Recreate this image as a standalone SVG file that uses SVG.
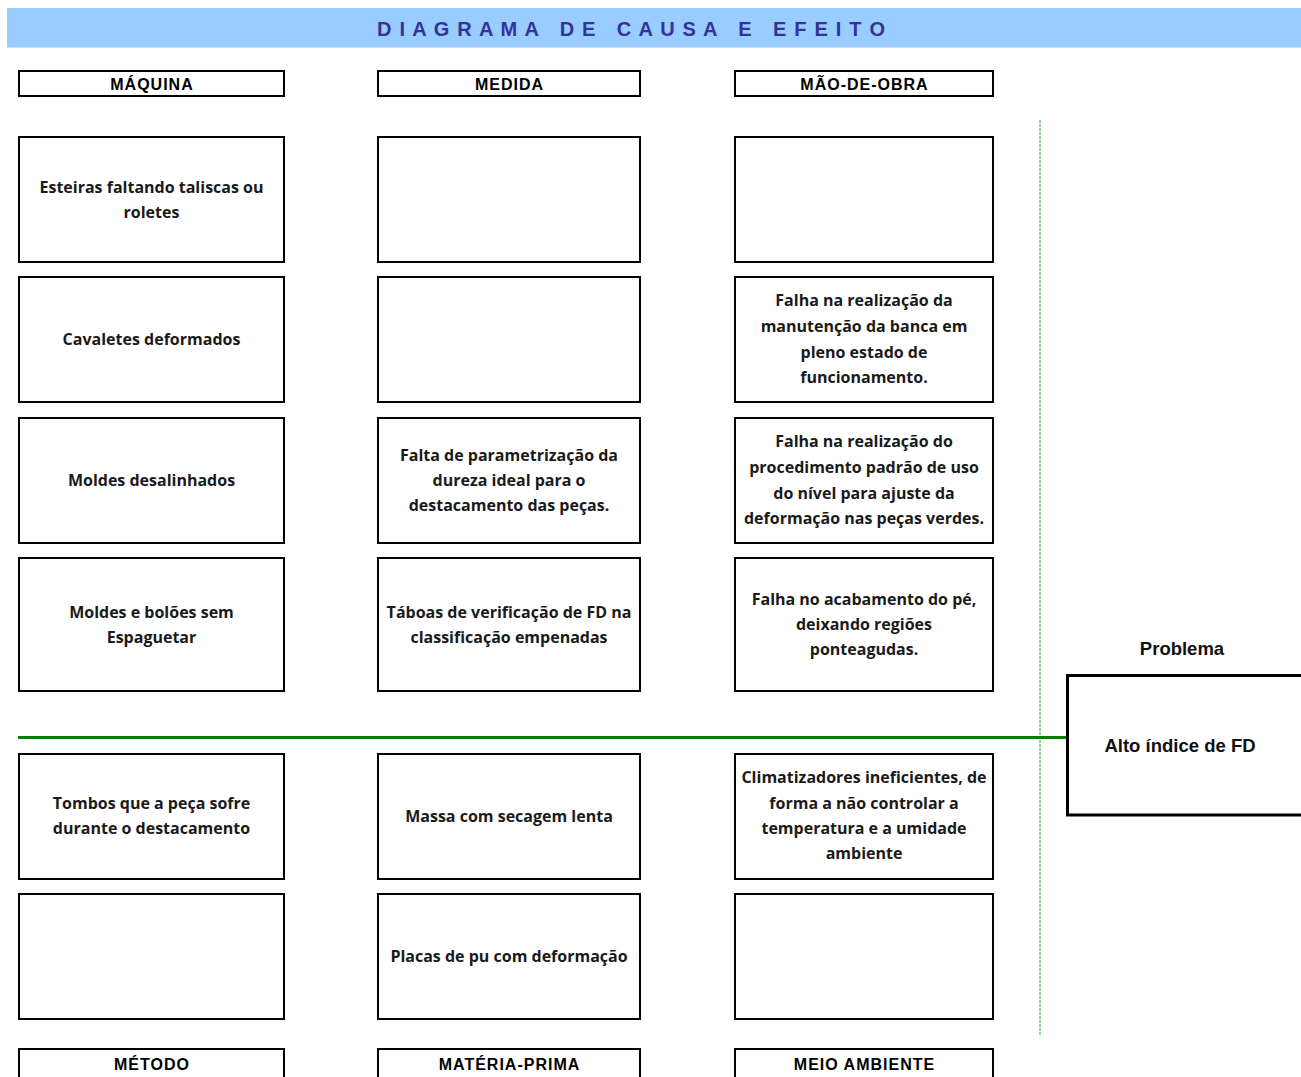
<svg xmlns="http://www.w3.org/2000/svg" width="1301" height="1077" viewBox="0 0 1301 1077">
  <style>
    .box { fill: #ffffff; stroke: #000000; stroke-width: 2; }
    .hdr { fill: #ffffff; stroke: #000000; stroke-width: 2; }
    .hdrtxt { font-family: "Liberation Sans", Arial, sans-serif; font-weight: bold; font-size: 16px; letter-spacing: 1px; fill: #000000; text-anchor: middle; }
    .cause { font-family: "Open Sans", "Noto Sans", sans-serif; font-weight: bold; font-size: 16px; fill: #1a1a1a; text-anchor: middle; }
    .prob { font-family: "Liberation Sans", Arial, sans-serif; font-weight: bold; font-size: 18.5px; fill: #111111; text-anchor: middle; }
    .title { font-family: "Liberation Sans", Arial, sans-serif; font-weight: bold; font-size: 20px; fill: #333399; text-anchor: middle; white-space: pre; }
  </style>

  <rect width="1301" height="1077" fill="#ffffff"/>

  <!-- Title band -->
  <g id="title">
    <rect x="7" y="8" width="1294" height="39.5" fill="#99ccff"/>
    <text class="title" x="631" y="36" xml:space="preserve" textLength="508" lengthAdjust="spacing">D I A G R A M A   D E   C A U S A   E   E F E I T O</text>
  </g>

  <!-- Connectors: main spine and dashed divider -->
  <g id="connectors">
    <line x1="1040" y1="120" x2="1040" y2="1036" stroke="#2e9e2e" stroke-width="1" stroke-dasharray="3,1"/>
    <line x1="18" y1="737.5" x2="1067" y2="737.5" stroke="#008000" stroke-width="3"/>
  </g>

  <!-- Category headers -->
  <g id="hdr-maquina">
    <rect class="hdr" x="19" y="71" width="265" height="25"/>
    <text class="hdrtxt" x="152" y="89.5">MÁQUINA</text>
  </g>
  <g id="hdr-medida">
    <rect class="hdr" x="378" y="71" width="262" height="25"/>
    <text class="hdrtxt" x="509.5" y="89.5">MEDIDA</text>
  </g>
  <g id="hdr-maodeobra">
    <rect class="hdr" x="735" y="71" width="258" height="25"/>
    <text class="hdrtxt" x="864.5" y="89.5">MÃO-DE-OBRA</text>
  </g>
  <g id="hdr-metodo">
    <rect class="hdr" x="19" y="1049" width="265" height="40"/>
    <text class="hdrtxt" x="152" y="1069.5">MÉTODO</text>
  </g>
  <g id="hdr-materiaprima">
    <rect class="hdr" x="378" y="1049" width="262" height="40"/>
    <text class="hdrtxt" x="509.5" y="1069.5">MATÉRIA-PRIMA</text>
  </g>
  <g id="hdr-meioambiente">
    <rect class="hdr" x="735" y="1049" width="258" height="40"/>
    <text class="hdrtxt" x="864.5" y="1069.5">MEIO AMBIENTE</text>
  </g>

  <!-- Column 1: Máquina / Método -->
  <g id="c1r1">
    <rect class="box" x="19" y="137" width="265" height="125"/>
    <text class="cause" x="151.5" y="193">Esteiras faltando taliscas ou</text>
    <text class="cause" x="151.5" y="218">roletes</text>
  </g>
  <g id="c1r2">
    <rect class="box" x="19" y="277" width="265" height="125"/>
    <text class="cause" x="151.5" y="345">Cavaletes deformados</text>
  </g>
  <g id="c1r3">
    <rect class="box" x="19" y="418" width="265" height="125"/>
    <text class="cause" x="151.5" y="486">Moldes desalinhados</text>
  </g>
  <g id="c1r4">
    <rect class="box" x="19" y="558" width="265" height="133"/>
    <text class="cause" x="151.5" y="618">Moldes e bolões sem</text>
    <text class="cause" x="151.5" y="643">Espaguetar</text>
  </g>
  <g id="c1r5">
    <rect class="box" x="19" y="754" width="265" height="125"/>
    <text class="cause" x="151.5" y="809">Tombos que a peça sofre</text>
    <text class="cause" x="151.5" y="834">durante o destacamento</text>
  </g>
  <g id="c1r6">
    <rect class="box" x="19" y="894" width="265" height="125"/>
  </g>

  <!-- Column 2: Medida / Matéria-prima -->
  <g id="c2r1">
    <rect class="box" x="378" y="137" width="262" height="125"/>
  </g>
  <g id="c2r2">
    <rect class="box" x="378" y="277" width="262" height="125"/>
  </g>
  <g id="c2r3">
    <rect class="box" x="378" y="418" width="262" height="125"/>
    <text class="cause" x="509" y="461">Falta de parametrização da</text>
    <text class="cause" x="509" y="486">dureza ideal para o</text>
    <text class="cause" x="509" y="511">destacamento das peças.</text>
  </g>
  <g id="c2r4">
    <rect class="box" x="378" y="558" width="262" height="133"/>
    <text class="cause" x="509" y="618">Táboas de verificação de FD na</text>
    <text class="cause" x="509" y="643">classificação empenadas</text>
  </g>
  <g id="c2r5">
    <rect class="box" x="378" y="754" width="262" height="125"/>
    <text class="cause" x="509" y="822">Massa com secagem lenta</text>
  </g>
  <g id="c2r6">
    <rect class="box" x="378" y="894" width="262" height="125"/>
    <text class="cause" x="509" y="962">Placas de pu com deformação</text>
  </g>

  <!-- Column 3: Mão-de-obra / Meio ambiente -->
  <g id="c3r1">
    <rect class="box" x="735" y="137" width="258" height="125"/>
  </g>
  <g id="c3r2">
    <rect class="box" x="735" y="277" width="258" height="125"/>
    <text class="cause" x="864" y="306">Falha na realização da</text>
    <text class="cause" x="864" y="332">manutenção da banca em</text>
    <text class="cause" x="864" y="358">pleno estado de</text>
    <text class="cause" x="864" y="383">funcionamento.</text>
  </g>
  <g id="c3r3">
    <rect class="box" x="735" y="418" width="258" height="125"/>
    <text class="cause" x="864" y="447">Falha na realização do</text>
    <text class="cause" x="864" y="473">procedimento padrão de uso</text>
    <text class="cause" x="864" y="499">do nível para ajuste da</text>
    <text class="cause" x="864" y="524">deformação nas peças verdes.</text>
  </g>
  <g id="c3r4">
    <rect class="box" x="735" y="558" width="258" height="133"/>
    <text class="cause" x="864" y="605">Falha no acabamento do pé,</text>
    <text class="cause" x="864" y="630">deixando regiões</text>
    <text class="cause" x="864" y="655">ponteagudas.</text>
  </g>
  <g id="c3r5">
    <rect class="box" x="735" y="754" width="258" height="125"/>
    <text class="cause" x="864" y="783">Climatizadores ineficientes, de</text>
    <text class="cause" x="864" y="809">forma a não controlar a</text>
    <text class="cause" x="864" y="834">temperatura e a umidade</text>
    <text class="cause" x="864" y="859">ambiente</text>
  </g>
  <g id="c3r6">
    <rect class="box" x="735" y="894" width="258" height="125"/>
  </g>

  <!-- Effect -->
  <g id="problema">
    <text class="prob" x="1182" y="655">Problema</text>
    <rect x="1067.5" y="675.5" width="260" height="139.5" fill="#ffffff" stroke="#000000" stroke-width="3"/>
    <text class="prob" x="1180" y="752">Alto índice de FD</text>
  </g>
</svg>
